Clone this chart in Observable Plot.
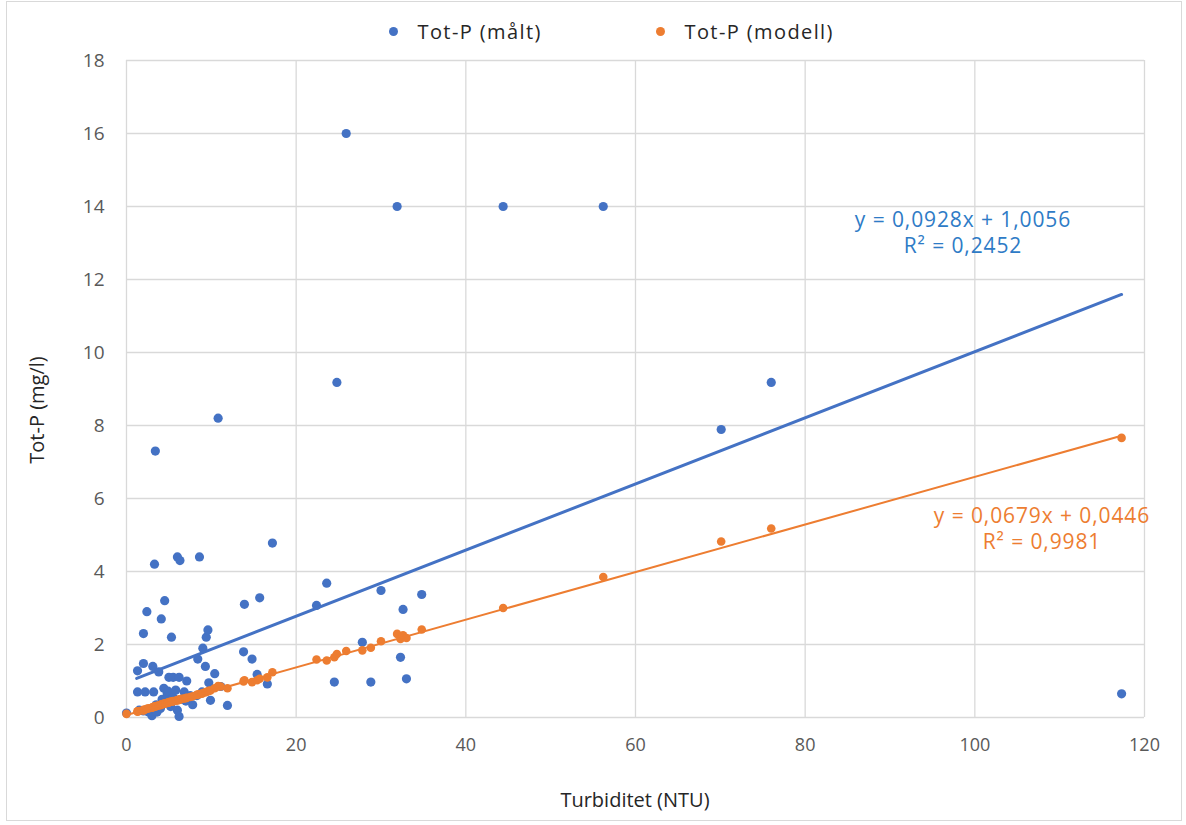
<!DOCTYPE html>
<html>
<head>
<meta charset="utf-8">
<script src="https://cdn.jsdelivr.net/npm/d3@7"></script>
<script src="https://cdn.jsdelivr.net/npm/@observablehq/plot@0.6"></script>
<style>
  html, body { margin: 0; padding: 0; background: #fff; }
  #wrap { position: relative; width: 1186px; height: 825px; font-family: "Open Sans", sans-serif; overflow: hidden; }
  #frame { position: absolute; left: 6px; top: 1px; width: 1176px; height: 820px; border: 1px solid #d9d9d9; box-sizing: border-box; pointer-events: none; }
  .legend { position: absolute; top: 18px; font-size: 20px; letter-spacing: 1.4px; color: #262626; white-space: nowrap; line-height: 28px; }
  .legend .sw { display: inline-block; width: 9px; height: 9px; border-radius: 50%; vertical-align: middle; margin-right: 20px; position: relative; top: -2px; }
  .eq { position: absolute; font-size: 21px; letter-spacing: 0.9px; line-height: 26px; text-align: center; white-space: nowrap; transform: translateX(-50%); }
  .title { position: absolute; font-size: 20px; color: #262626; white-space: nowrap; line-height: 24px; }
  #plot { position: absolute; left: 0; top: 0; }
</style>
</head>
<body>
<div id="wrap">
  <div id="plot"></div>
  <div id="frame"></div>
</div>
<script>
// Turbidity (NTU) for each sample
const turbidity = [
  0.0, 1.3, 1.3, 1.5, 2.0, 2.0, 2.0, 2.2, 2.4, 2.6,
  3.0, 3.1, 3.2, 3.3, 3.4, 3.5, 3.6, 3.8, 4.0, 4.1,
  4.2, 4.4, 4.5, 4.6, 4.8, 4.9, 5.0, 5.0, 5.2, 5.3,
  5.5, 5.5, 5.8, 6.0, 6.0, 6.2, 6.2, 6.3, 6.5, 6.8,
  7.0, 7.1, 7.5, 7.8, 8.3, 8.4, 8.6, 8.9, 9.0, 9.3,
  9.4, 9.6, 9.7, 9.9, 10.4, 10.8, 11.1, 11.9, 13.8, 13.9,
  14.8, 15.4, 15.7, 16.6, 17.2, 22.4, 23.6, 24.5, 24.8, 25.9,
  27.8, 28.8, 30.0, 31.9, 32.3, 32.6, 33.0, 34.8, 44.4, 56.2,
  70.1, 76.0, 117.3
];
// Measured Tot-P (mg/l)
const totPMaalt = [
  0.12, 1.28, 0.70, 0.20, 2.30, 1.48, 0.18, 0.70, 2.90, 0.15,
  0.05, 1.40, 0.70, 4.20, 7.30, 0.35, 0.15, 1.25, 0.25, 2.70,
  0.50, 0.80, 3.20, 0.40, 0.65, 0.72, 1.10, 0.45, 0.30, 2.20,
  1.10, 0.55, 0.75, 4.40, 0.20, 1.10, 0.03, 4.30, 0.50, 0.70,
  0.45, 1.00, 0.60, 0.35, 0.60, 1.60, 4.40, 0.70, 1.90, 1.40,
  2.20, 2.40, 0.95, 0.47, 1.20, 8.20, 0.85, 0.33, 1.80, 3.10,
  1.60, 1.18, 3.28, 0.92, 4.78, 3.07, 3.68, 0.97, 9.18, 16.0,
  2.06, 0.97, 3.48, 14.0, 1.65, 2.96, 1.06, 3.37, 14.0, 14.0,
  7.89, 9.18, 0.65
];
// Modelled Tot-P (mg/l)
const totPModell = [
  0.10, 0.17, 0.16, 0.18, 0.21, 0.20, 0.19, 0.22, 0.24, 0.25,
  0.27, 0.28, 0.29, 0.30, 0.30, 0.31, 0.32, 0.33, 0.34, 0.36,
  0.36, 0.38, 0.38, 0.39, 0.40, 0.41, 0.42, 0.41, 0.43, 0.44,
  0.45, 0.44, 0.46, 0.47, 0.48, 0.49, 0.48, 0.50, 0.51, 0.52,
  0.53, 0.54, 0.56, 0.58, 0.62, 0.63, 0.64, 0.65, 0.67, 0.69,
  0.70, 0.72, 0.73, 0.74, 0.80, 0.86, 0.85, 0.80, 0.99, 1.02,
  0.97, 1.02, 1.06, 1.10, 1.24, 1.59, 1.56, 1.65, 1.74, 1.82,
  1.84, 1.91, 2.09, 2.29, 2.15, 2.25, 2.18, 2.41, 3.00, 3.85,
  4.82, 5.18, 7.66
];

const seriesNames = ["Tot-P (målt)", "Tot-P (modell)"];
const seriesColors = ["#4472C4", "#ED7D31"];
const equationColors = ["#2E7BC6", "#ED7D31"];

// Linear trend lines as drawn (end points)
const trendMaaltX = [1.2, 117.3];
const trendMaaltY = [1.07, 11.59];
const trendModellX = [0.0, 117.3];
const trendModellY = [0.07, 7.72];

const trendLabels = [
  ["y = 0,0928x + 1,0056", "R² = 0,2452"],
  ["y = 0,0679x + 0,0446", "R² = 0,9981"]
];

const xTicks = [0, 20, 40, 60, 80, 100, 120];
const yTicks = [0, 2, 4, 6, 8, 10, 12, 14, 16, 18];
const xTitle = "Turbiditet (NTU)";
const yTitle = "Tot-P (mg/l)";

const maalt = turbidity.map((t, i) => ({x: t, y: totPMaalt[i]}));
const modell = turbidity.map((t, i) => ({x: t, y: totPModell[i]}));
const lineMaalt = trendMaaltX.map((t, i) => ({x: t, y: trendMaaltY[i]}));
const lineModell = trendModellX.map((t, i) => ({x: t, y: trendModellY[i]}));

const chart = Plot.plot({
  width: 1186,
  height: 825,
  marginLeft: 126,
  marginRight: 42,
  marginTop: 60,
  marginBottom: 108,
  style: {fontFamily: "Open Sans, sans-serif", fontSize: "18px", color: "#595959", background: "transparent"},
  x: {domain: [0, 120]},
  y: {domain: [0, 18]},
  marks: [
    Plot.gridX(xTicks, {stroke: "#d9d9d9", strokeOpacity: 1, strokeWidth: 1.3}),
    Plot.gridY(yTicks, {stroke: "#d9d9d9", strokeOpacity: 1, strokeWidth: 1.3}),
    Plot.axisX(xTicks, {tickSize: 0, tickPadding: 21, label: null, fill: "#595959", fontSize: 18}),
    Plot.axisY(yTicks, {tickSize: 0, tickPadding: 22, label: null, fill: "#595959", fontSize: 19, letterSpacing: "2px"}),
    Plot.dot(maalt, {x: "x", y: "y", r: 4.6, fill: seriesColors[0], stroke: "none"}),
    Plot.dot(modell, {x: "x", y: "y", r: 4.3, fill: seriesColors[1], stroke: "none"}),
    Plot.line(lineMaalt, {x: "x", y: "y", stroke: seriesColors[0], strokeWidth: 3}),
    Plot.line(lineModell, {x: "x", y: "y", stroke: seriesColors[1], strokeWidth: 2})
  ]
});
document.getElementById("plot").appendChild(chart);

const wrap = document.getElementById("wrap");
// Legend
const legendPos = [388.5, 655.5];
seriesNames.forEach((name, i) => {
  const el = document.createElement("div");
  el.className = "legend";
  el.style.left = legendPos[i] + "px";
  el.innerHTML = `<span class="sw" style="background:${seriesColors[i]}"></span>${name}`;
  wrap.appendChild(el);
});
// Trend equations
const eqPos = [[963, 206], [1042, 502]];
trendLabels.forEach((lines, i) => {
  const el = document.createElement("div");
  el.className = "eq";
  el.style.left = eqPos[i][0] + "px";
  el.style.top = eqPos[i][1] + "px";
  el.style.color = equationColors[i];
  el.innerHTML = lines.join("<br>");
  wrap.appendChild(el);
});
// Axis titles
const xt = document.createElement("div");
xt.className = "title";
xt.textContent = xTitle;
xt.style.left = "635px";
xt.style.top = "800px";
xt.style.transform = "translate(-50%, -50%)";
wrap.appendChild(xt);
const yt = document.createElement("div");
yt.className = "title";
yt.textContent = yTitle;
yt.style.left = "37px";
yt.style.top = "410px";
yt.style.transform = "translate(-50%, -50%) rotate(-90deg)";
wrap.appendChild(yt);
</script>
</body>
</html>
